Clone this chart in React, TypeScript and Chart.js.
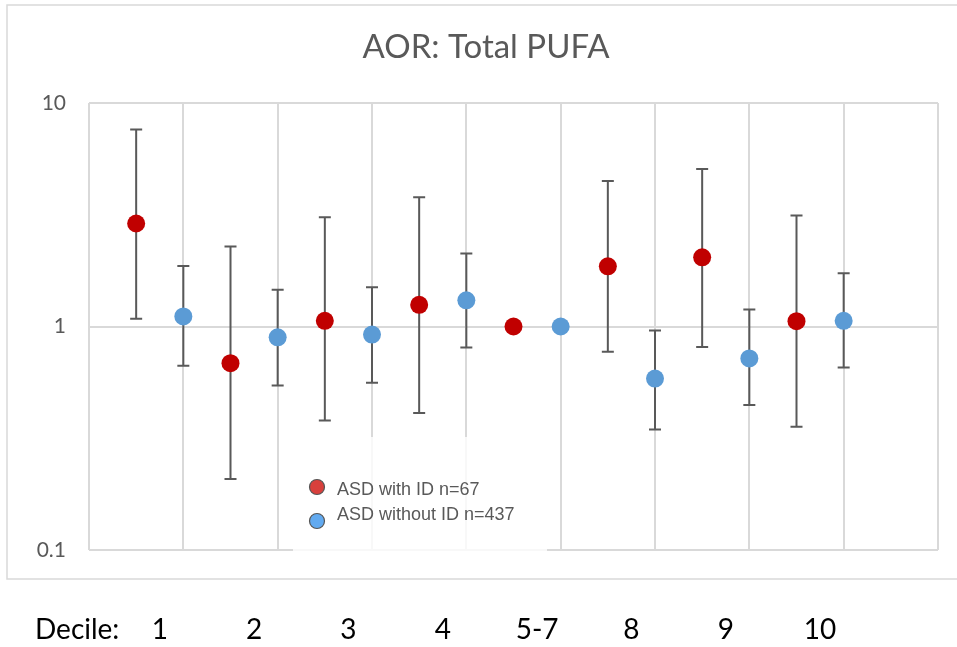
import React, { useEffect, useRef } from 'react';
import { Chart, registerables } from 'chart.js';

Chart.register(...registerables);

const chartTitle = 'AOR: Total PUFA';
const axisLead = 'Decile:';
const deciles = ['1', '2', '3', '4', '5-7', '8', '9', '10'];
const seriesNames = ['ASD with ID n=67', 'ASD without ID n=437'];

const withIdAOR = [2.89, 0.685, 1.06, 1.25, 1.0, 1.86, 2.04, 1.056];
const withIdLow = [1.083, 0.208, 0.38, 0.41, null, 0.77, 0.81, 0.356];
const withIdHigh = [7.62, 2.28, 3.08, 3.79, null, 4.48, 5.07, 3.14];

const withoutIdAOR = [1.109, 0.895, 0.92, 1.31, 1.0, 0.585, 0.72, 1.06];
const withoutIdLow = [0.667, 0.545, 0.56, 0.805, null, 0.346, 0.445, 0.655];
const withoutIdHigh = [1.865, 1.46, 1.5, 2.12, null, 0.96, 1.19, 1.73];

const yTicks = [0.1, 1, 10];
const yTickLabels = ['0.1', '1', '10'];

const RED = '#c00000';
const BLUE = '#5b9bd5';
const GRID = '#d9d9d9';
const GREY_TEXT = '#595959';

export default function App() {
  const ref = useRef<HTMLCanvasElement>(null);

  useEffect(() => {
    if (!ref.current) return;

    const build = (vals: number[], lo: (number | null)[], hi: (number | null)[], offset: number) =>
      vals.map((v, i) => ({ x: 2 * i + offset, y: v, lo: lo[i], hi: hi[i] }));

    const background = {
      id: 'background',
      beforeDraw(chart: any) {
        const ctx = chart.ctx;
        ctx.save();
        ctx.fillStyle = '#ffffff';
        ctx.fillRect(0, 0, chart.width, chart.height);
        ctx.strokeStyle = GRID;
        ctx.lineWidth = 1.5;
        ctx.beginPath();
        ctx.moveTo(chart.width + 5, 5);
        ctx.lineTo(7, 5);
        ctx.lineTo(7, 579);
        ctx.lineTo(chart.width + 5, 579);
        ctx.stroke();
        ctx.fillStyle = GREY_TEXT;
        ctx.font = '33px Lato, sans-serif';
        ctx.textAlign = 'center';
        ctx.textBaseline = 'middle';
        ctx.fillText(chartTitle, 486, 47);
        ctx.restore();
      },
    };

    const errorBars = {
      id: 'errorBars',
      beforeDatasetsDraw(chart: any) {
        const ctx = chart.ctx;
        const y = chart.scales.y;
        chart.data.datasets.forEach((ds: any, di: number) => {
          const meta = chart.getDatasetMeta(di);
          ds.data.forEach((d: any, i: number) => {
            if (d.lo == null || d.hi == null) return;
            const px = meta.data[i].x;
            const top = y.getPixelForValue(d.hi);
            const bot = y.getPixelForValue(d.lo);
            ctx.save();
            ctx.strokeStyle = '#595959';
            ctx.lineWidth = 2;
            ctx.beginPath();
            ctx.moveTo(px, top);
            ctx.lineTo(px, bot);
            ctx.moveTo(px - 6, top);
            ctx.lineTo(px + 6, top);
            ctx.moveTo(px - 6, bot);
            ctx.lineTo(px + 6, bot);
            ctx.stroke();
            ctx.restore();
          });
        });
      },
    };

    const overlay = {
      id: 'overlay',
      afterDraw(chart: any) {
        const ctx = chart.ctx;
        const x = chart.scales.x;
        ctx.save();
        ctx.fillStyle = 'rgba(255,255,255,0.82)';
        ctx.fillRect(293, 437, 254, 114);
        const markers = ['#d8403c', '#62aaf0'];
        const ys = [487, 521];
        const ty = [490, 515];
        seriesNames.forEach((name, i) => {
          ctx.beginPath();
          ctx.arc(317, ys[i], 7.5, 0, Math.PI * 2);
          ctx.fillStyle = markers[i];
          ctx.fill();
          ctx.strokeStyle = '#555555';
          ctx.lineWidth = 1.2;
          ctx.stroke();
          ctx.fillStyle = GREY_TEXT;
          ctx.font = '18px "Liberation Sans", Arial, sans-serif';
          ctx.textAlign = 'left';
          ctx.textBaseline = 'middle';
          ctx.fillText(name, 337, ty[i]);
        });
        ctx.fillStyle = '#000000';
        ctx.font = '28px Lato, sans-serif';
        ctx.textBaseline = 'middle';
        ctx.textAlign = 'left';
        ctx.fillText(axisLead, 35, 630);
        ctx.textAlign = 'center';
        deciles.forEach((d, i) => {
          ctx.fillText(d, x.getPixelForValue(2 * i + 1.5), 630);
        });
        ctx.restore();
      },
    };

    const chart = new Chart(ref.current, {
      type: 'scatter',
      data: {
        datasets: [
          {
            label: seriesNames[0],
            data: build(withIdAOR, withIdLow, withIdHigh, 1) as any,
            backgroundColor: RED,
            borderColor: RED,
            pointRadius: 9,
            pointHoverRadius: 9,
            borderWidth: 0,
          },
          {
            label: seriesNames[1],
            data: build(withoutIdAOR, withoutIdLow, withoutIdHigh, 2) as any,
            backgroundColor: BLUE,
            borderColor: BLUE,
            pointRadius: 9,
            pointHoverRadius: 9,
            borderWidth: 0,
          },
        ],
      },
      options: {
        responsive: false,
        animation: false,
        layout: { padding: { left: 0, right: 19, top: 103, bottom: 97 } },
        plugins: {
          legend: { display: false },
          tooltip: { enabled: false },
          title: { display: false },
        },
        scales: {
          x: {
            type: 'linear',
            min: 0,
            max: 18,
            ticks: { display: false, stepSize: 2 },
            grid: { color: GRID, lineWidth: 2, drawTicks: false },
            border: { display: false },
            afterFit: (s: any) => {
              s.height = 0;
            },
          },
          y: {
            type: 'logarithmic',
            min: 0.1,
            max: 10,
            afterBuildTicks: (s: any) => {
              s.ticks = yTicks.map((v) => ({ value: v }));
            },
            ticks: {
              color: GREY_TEXT,
              font: { family: 'Lato, sans-serif', size: 21 },
              padding: 23,
              callback: (_v: any, i: number) => yTickLabels[i],
            },
            grid: { color: GRID, lineWidth: 2, drawTicks: false },
            border: { display: false },
            afterFit: (s: any) => {
              s.width = 89;
            },
          },
        },
      },
      plugins: [background, errorBars, overlay],
    });

    return () => chart.destroy();
  }, []);

  return (
    <div style={{ position: 'absolute', left: 0, top: 0, width: 957, height: 647 }}>
      <canvas ref={ref} width={957} height={647} />
    </div>
  );
}
